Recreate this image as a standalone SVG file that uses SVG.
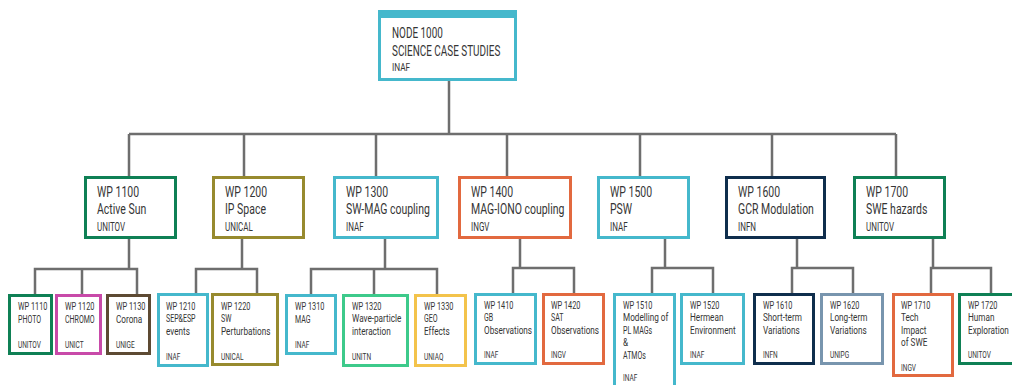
<svg xmlns="http://www.w3.org/2000/svg" width="1012" height="385" viewBox="0 0 1012 385">
<style>
  text { font-family: Roboto, "Liberation Sans", sans-serif; fill: #353535; }
  .box { fill: #ffffff; stroke-width: 3; }
  .t0 { font-size: 14px; transform: scale(0.71,1); }
  .t0s { font-size: 11px; transform: scale(0.75,1); }
  .t1 { font-size: 15px; transform: scale(0.70,1); }
  .t1s { font-size: 12.5px; transform: scale(0.64,1); }
  .w { font-size: 10.5px; transform: scale(0.70,1); }
  .c { font-size: 10.5px; transform: scale(0.67,1); }
  .l { font-size: 10.5px; transform: scale(0.78,1); }
  .s { font-size: 9.3px; transform: scale(0.70,1); }
  .conn path { fill: none; stroke: #6e6e6e; stroke-width: 2.5; }
  .green { stroke: #0f8055; }
  .olive { stroke: #978a2e; }
  .cyan { stroke: #45b8cc; }
  .orange { stroke: #e2693f; }
  .navy { stroke: #0f2e4d; }
  .magenta { stroke: #c84aa9; }
  .brown { stroke: #5d4a33; }
  .teal { stroke: #3dca8b; }
  .yellow { stroke: #f3c34b; }
  .slate { stroke: #7895ae; }
</style>

<g id="connectors" class="conn">
  <path d="M449 81 V134"/>
  <path d="M129 134 H896"/>
  <path d="M129 134 V176 M244 134 V176 M376 134 V176 M507 134 V176 M640 134 V176 M772 134 V176 M896 134 V176"/>
  <path d="M129 239 V269 M35 294 V269 H137 V294 M82 269 V294"/>
  <path d="M242 239 V269 M196 294 V269 H257 V294"/>
  <path d="M385 239 V269 M311 294 V269 H437 V294 M374 269 V294"/>
  <path d="M520 239 V268 M513 293 V268 H574 V293"/>
  <path d="M665 239 V268 M652 293 V268 H713 V293"/>
  <path d="M797 239 V268 M792 293 V268 H853 V293"/>
  <path d="M933 239 V268 M931 293 V268 H991 V293"/>
</g>

<g id="node1000">
  <rect class="box cyan" x="379.5" y="11.5" width="136" height="68"/>
  <rect x="378" y="10" width="139" height="8" fill="#45b8cc"/>
  <g transform="translate(392,0)">
    <text class="t0" y="38">NODE 1000</text>
    <text class="t0" y="56">SCIENCE CASE STUDIES</text>
    <text class="t0s" y="71">INAF</text>
  </g>
</g>

<g id="wp1100">
  <rect class="box green" x="85.5" y="177.5" width="90" height="60"/>
  <g transform="translate(97,0)">
    <text class="t1" y="197">WP 1100</text>
    <text class="t1" y="214">Active Sun</text>
    <text class="t1s" y="231">UNITOV</text>
  </g>
</g>
<g id="wp1200">
  <rect class="box olive" x="213.5" y="177.5" width="90" height="60"/>
  <g transform="translate(225,0)">
    <text class="t1" y="197">WP 1200</text>
    <text class="t1" y="214">IP Space</text>
    <text class="t1s" y="231">UNICAL</text>
  </g>
</g>
<g id="wp1300">
  <rect class="box cyan" x="334.5" y="177.5" width="103" height="60"/>
  <g transform="translate(346,0)">
    <text class="t1" y="197">WP 1300</text>
    <text class="t1" y="214">SW-MAG coupling</text>
    <text class="t1s" y="231">INAF</text>
  </g>
</g>
<g id="wp1400">
  <rect class="box orange" x="459.5" y="177.5" width="111" height="60"/>
  <g transform="translate(471,0)">
    <text class="t1" y="197">WP 1400</text>
    <text class="t1" y="214">MAG-IONO coupling</text>
    <text class="t1s" y="231">INGV</text>
  </g>
</g>
<g id="wp1500">
  <rect class="box cyan" x="598.5" y="177.5" width="90" height="60"/>
  <g transform="translate(610,0)">
    <text class="t1" y="197">WP 1500</text>
    <text class="t1" y="214">PSW</text>
    <text class="t1s" y="231">INAF</text>
  </g>
</g>
<g id="wp1600">
  <rect class="box navy" x="726.5" y="177.5" width="98" height="60"/>
  <g transform="translate(738,0)">
    <text class="t1" y="197">WP 1600</text>
    <text class="t1" y="214">GCR Modulation</text>
    <text class="t1s" y="231">INFN</text>
  </g>
</g>
<g id="wp1700">
  <rect class="box green" x="854.5" y="177.5" width="90" height="60"/>
  <g transform="translate(866,0)">
    <text class="t1" y="197">WP 1700</text>
    <text class="t1" y="214">SWE hazards</text>
    <text class="t1s" y="231">UNITOV</text>
  </g>
</g>

<g id="wp1110">
  <rect class="box green" x="9.5" y="295.5" width="42" height="58"/>
  <g transform="translate(18,0)">
    <text class="w" y="310">WP 1110</text>
    <text class="c" y="323">PHOTO</text>
    <text class="s" y="348">UNITOV</text>
  </g>
</g>
<g id="wp1120">
  <rect class="box magenta" x="56.5" y="295.5" width="44" height="58"/>
  <g transform="translate(65,0)">
    <text class="w" y="310">WP 1120</text>
    <text class="c" y="323">CHROMO</text>
    <text class="s" y="348">UNICT</text>
  </g>
</g>
<g id="wp1130">
  <rect class="box brown" x="107.5" y="295.5" width="42" height="58"/>
  <g transform="translate(116,0)">
    <text class="w" y="310">WP 1130</text>
    <text class="l" y="323">Corona</text>
    <text class="s" y="348">UNIGE</text>
  </g>
</g>
<g id="wp1210">
  <rect class="box cyan" x="158.5" y="294.5" width="49" height="71"/>
  <g transform="translate(166,0)">
    <text class="w" y="310">WP 1210</text>
    <text class="c" y="322.5">SEP&amp;ESP</text>
    <text class="l" y="335">events</text>
    <text class="s" y="360">INAF</text>
  </g>
</g>
<g id="wp1220">
  <rect class="box olive" x="212.5" y="294.5" width="65" height="70"/>
  <g transform="translate(221,0)">
    <text class="w" y="310">WP 1220</text>
    <text class="c" y="322.5">SW</text>
    <text class="l" y="335">Perturbations</text>
    <text class="s" y="360">UNICAL</text>
  </g>
</g>
<g id="wp1310">
  <rect class="box cyan" x="286.5" y="295.5" width="49" height="58"/>
  <g transform="translate(295,0)">
    <text class="w" y="310">WP 1310</text>
    <text class="c" y="323">MAG</text>
    <text class="s" y="348">INAF</text>
  </g>
</g>
<g id="wp1320">
  <rect class="box teal" x="343.5" y="295.5" width="64" height="70"/>
  <g transform="translate(352,0)">
    <text class="w" y="310">WP 1320</text>
    <text class="l" y="322.5">Wave-particle</text>
    <text class="l" y="335">interaction</text>
    <text class="s" y="360">UNITN</text>
  </g>
</g>
<g id="wp1330">
  <rect class="box yellow" x="415.5" y="295.5" width="50" height="70"/>
  <g transform="translate(424,0)">
    <text class="w" y="310">WP 1330</text>
    <text class="c" y="322.5">GEO</text>
    <text class="l" y="335">Effects</text>
    <text class="s" y="360">UNIAQ</text>
  </g>
</g>
<g id="wp1410">
  <rect class="box cyan" x="475.5" y="294.5" width="60" height="69"/>
  <g transform="translate(484,0)">
    <text class="w" y="309">WP 1410</text>
    <text class="c" y="321.5">GB</text>
    <text class="l" y="334">Observations</text>
    <text class="s" y="358">INAF</text>
  </g>
</g>
<g id="wp1420">
  <rect class="box orange" x="543.5" y="294.5" width="60" height="69"/>
  <g transform="translate(551,0)">
    <text class="w" y="309">WP 1420</text>
    <text class="c" y="321.5">SAT</text>
    <text class="l" y="334">Observations</text>
    <text class="s" y="358">INGV</text>
  </g>
</g>
<g id="wp1510">
  <rect class="box cyan" x="614.5" y="294.5" width="60" height="100"/>
  <g transform="translate(623,0)">
    <text class="w" y="309">WP 1510</text>
    <text class="l" y="321.5">Modelling of</text>
    <text class="c" y="334">PL MAGs</text>
    <text class="l" y="346.5">&amp;</text>
    <text class="c" y="359">ATMOs</text>
    <text class="s" y="381">INAF</text>
  </g>
</g>
<g id="wp1520">
  <rect class="box cyan" x="681.5" y="294.5" width="62" height="69"/>
  <g transform="translate(690,0)">
    <text class="w" y="309">WP 1520</text>
    <text class="l" y="321.5">Hermean</text>
    <text class="l" y="334">Environment</text>
    <text class="s" y="358">INAF</text>
  </g>
</g>
<g id="wp1610">
  <rect class="box navy" x="754.5" y="294.5" width="59" height="69"/>
  <g transform="translate(763,0)">
    <text class="w" y="309">WP 1610</text>
    <text class="l" y="321.5">Short-term</text>
    <text class="l" y="334">Variations</text>
    <text class="s" y="358">INFN</text>
  </g>
</g>
<g id="wp1620">
  <rect class="box slate" x="821.5" y="294.5" width="61" height="69"/>
  <g transform="translate(830,0)">
    <text class="w" y="309">WP 1620</text>
    <text class="l" y="321.5">Long-term</text>
    <text class="l" y="334">Variations</text>
    <text class="s" y="358">UNIPG</text>
  </g>
</g>
<g id="wp1710">
  <rect class="box orange" x="893.5" y="294.5" width="59" height="81"/>
  <g transform="translate(901,0)">
    <text class="w" y="309">WP 1710</text>
    <text class="l" y="321.5">Tech</text>
    <text class="l" y="334">Impact</text>
    <text class="l" y="346.5">of SWE</text>
    <text class="s" y="371">INGV</text>
  </g>
</g>
<g id="wp1720">
  <rect class="box green" x="959.5" y="294.5" width="60" height="69"/>
  <g transform="translate(968,0)">
    <text class="w" y="309">WP 1720</text>
    <text class="l" y="321.5">Human</text>
    <text class="l" y="334">Exploration</text>
    <text class="s" y="358">UNITOV</text>
  </g>
</g>
</svg>
